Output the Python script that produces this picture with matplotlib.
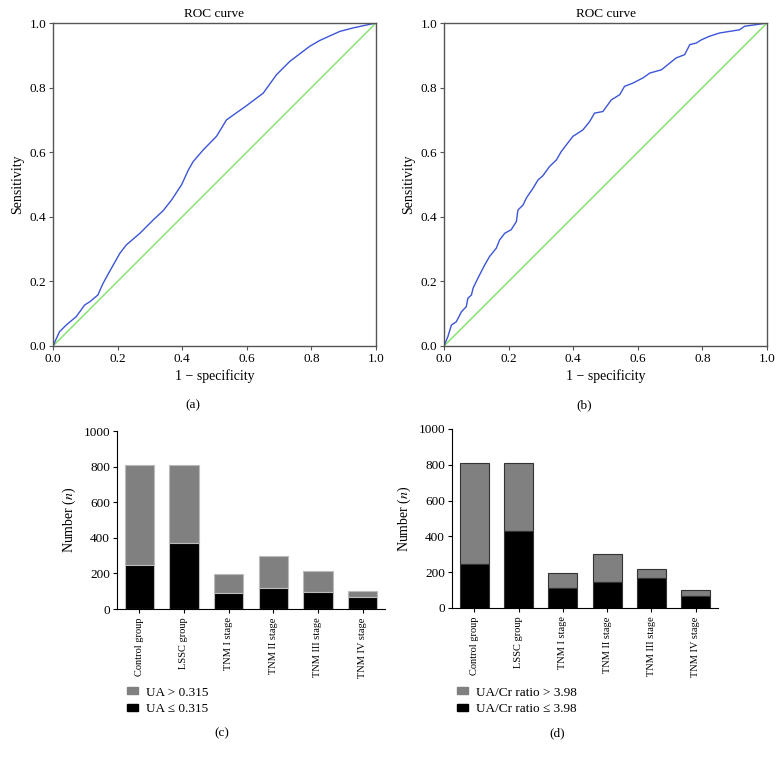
import matplotlib
matplotlib.use("Agg")
import matplotlib.pyplot as plt
from matplotlib.patches import Patch

plt.rcParams["font.family"] = ["Liberation Serif", "DejaVu Serif"]
plt.rcParams["mathtext.fontset"] = "stix"

# ROC curve (a)
roc_a_fpr = [0.0, 0.02, 0.041, 0.072, 0.098, 0.114, 0.139, 0.155, 0.181, 0.207, 0.227,
             0.269, 0.31, 0.341, 0.367, 0.398, 0.419, 0.434, 0.465, 0.506, 0.522, 0.537,
             0.599, 0.651, 0.692, 0.733, 0.795, 0.826, 0.888, 0.93, 1.0]
roc_a_tpr = [0.0, 0.044, 0.065, 0.091, 0.127, 0.137, 0.158, 0.194, 0.241, 0.287, 0.313,
             0.349, 0.39, 0.419, 0.452, 0.499, 0.545, 0.571, 0.607, 0.649, 0.675, 0.7,
             0.744, 0.783, 0.84, 0.881, 0.928, 0.946, 0.974, 0.985, 1.0]

# ROC curve (b)
roc_b_fpr = [0.0, 0.012, 0.023, 0.038, 0.054, 0.069, 0.074, 0.085, 0.09, 0.105, 0.126,
             0.141, 0.162, 0.172, 0.188, 0.208, 0.224, 0.229, 0.245, 0.255, 0.265, 0.276,
             0.291, 0.306, 0.327, 0.348, 0.363, 0.379, 0.399, 0.43, 0.451, 0.466, 0.492,
             0.518, 0.544, 0.559, 0.585, 0.616, 0.637, 0.673, 0.699, 0.719, 0.745, 0.761,
             0.781, 0.797, 0.822, 0.853, 0.884, 0.915, 0.931, 0.967, 1.0]
roc_b_tpr = [0.0, 0.029, 0.065, 0.075, 0.106, 0.122, 0.148, 0.158, 0.179, 0.21, 0.251,
             0.277, 0.303, 0.328, 0.349, 0.36, 0.385, 0.421, 0.437, 0.458, 0.473, 0.489,
             0.514, 0.527, 0.556, 0.576, 0.602, 0.623, 0.649, 0.669, 0.695, 0.721, 0.726,
             0.762, 0.778, 0.804, 0.814, 0.83, 0.845, 0.855, 0.876, 0.892, 0.902, 0.933,
             0.938, 0.948, 0.959, 0.969, 0.974, 0.979, 0.99, 0.995, 1.0]

groups = ["Control group", "LSSC group", "TNM I stage", "TNM II stage",
          "TNM III stage", "TNM IV stage"]
ua_total = [810, 810, 195, 300, 215, 100]
ua_low = [245, 371, 90, 118, 95, 68]
ratio_total = [812, 812, 196, 302, 216, 100]
ratio_low = [244, 432, 110, 147, 165, 65]

W, H = 783, 759
fig = plt.figure(figsize=(W / 100, H / 100), dpi=100)


def px_axes(left, top, right, bottom):
    return fig.add_axes([left / W, 1 - bottom / H, (right - left) / W, (bottom - top) / H])


def roc_panel(ax, fpr, tpr):
    ax.plot([0, 1], [0, 1], color="#7ee06a", lw=1.0)
    ax.plot(fpr, tpr, color="#3c55d8", lw=1.0)
    ax.set_xlim(0, 1)
    ax.set_ylim(0, 1)
    ticks = [0.0, 0.2, 0.4, 0.6, 0.8, 1.0]
    ax.set_xticks(ticks)
    ax.set_yticks(ticks)
    ax.set_xticklabels([f"{t:.1f}" for t in ticks])
    ax.set_yticklabels([f"{t:.1f}" for t in ticks])
    ax.tick_params(labelsize=9.5, length=3, color="#555555", width=0.8, pad=2)
    for s in ax.spines.values():
        s.set_color("#555555")
        s.set_linewidth(1.0)
    ax.set_title("ROC curve", fontsize=9.5, pad=4)
    ax.set_xlabel("1 \u2212 specificity", fontsize=10, labelpad=3)
    ax.set_ylabel("Sensitivity", fontsize=10, labelpad=4)


def bar_panel(ax, total, low, edge):
    x = range(len(groups))
    high = [t - l for t, l in zip(total, low)]
    ax.bar(x, high, bottom=low, width=0.66, color="#808080", edgecolor=edge, lw=0.8)
    ax.bar(x, low, width=0.66, color="#000000", edgecolor=edge, lw=0.8)
    ax.set_xlim(-0.5, 5.5)
    ax.set_ylim(0, 1000)
    ax.set_yticks(range(0, 1001, 200))
    ax.set_xticks(list(x))
    ax.set_xticklabels(groups, rotation=90, fontsize=7.5)
    ax.tick_params(axis="y", labelsize=9.5, length=3, pad=2)
    ax.tick_params(axis="x", length=3, pad=3)
    for s in ["top", "right"]:
        ax.spines[s].set_visible(False)
    ax.set_ylabel("Number ($n$)", fontsize=10, labelpad=4)
    return [Patch(facecolor="#808080", edgecolor="#808080"),
            Patch(facecolor="#000000", edgecolor="#000000")]


ax_a = px_axes(53, 23, 376, 346)
roc_panel(ax_a, roc_a_fpr, roc_a_tpr)
ax_b = px_axes(444, 23, 767, 346)
roc_panel(ax_b, roc_b_fpr, roc_b_tpr)

legend_kw = dict(loc="upper left", frameon=False, fontsize=9.5, handlelength=0.9,
                 handleheight=0.45, handletextpad=0.6, borderpad=0, labelspacing=0.35)

ax_c = px_axes(117, 431, 385, 609)
h = bar_panel(ax_c, ua_total, ua_low, "#bbbbbb")
fig.legend(h, ["UA > 0.315", "UA \u2264 0.315"],
           bbox_to_anchor=(120 / W, 1 - 680 / H), **legend_kw)

ax_d = px_axes(452, 429, 718, 608)
h = bar_panel(ax_d, ratio_total, ratio_low, "#333333")
fig.legend(h, ["UA/Cr ratio > 3.98", "UA/Cr ratio \u2264 3.98"],
           bbox_to_anchor=(450 / W, 1 - 680 / H), **legend_kw)

for label, x, y in [("(a)", 193, 405), ("(b)", 584, 405), ("(c)", 222, 733), ("(d)", 557, 733)]:
    fig.text(x / W, 1 - y / H, label, ha="center", va="center", fontsize=9.5)

fig.savefig("out.png", dpi=100)
